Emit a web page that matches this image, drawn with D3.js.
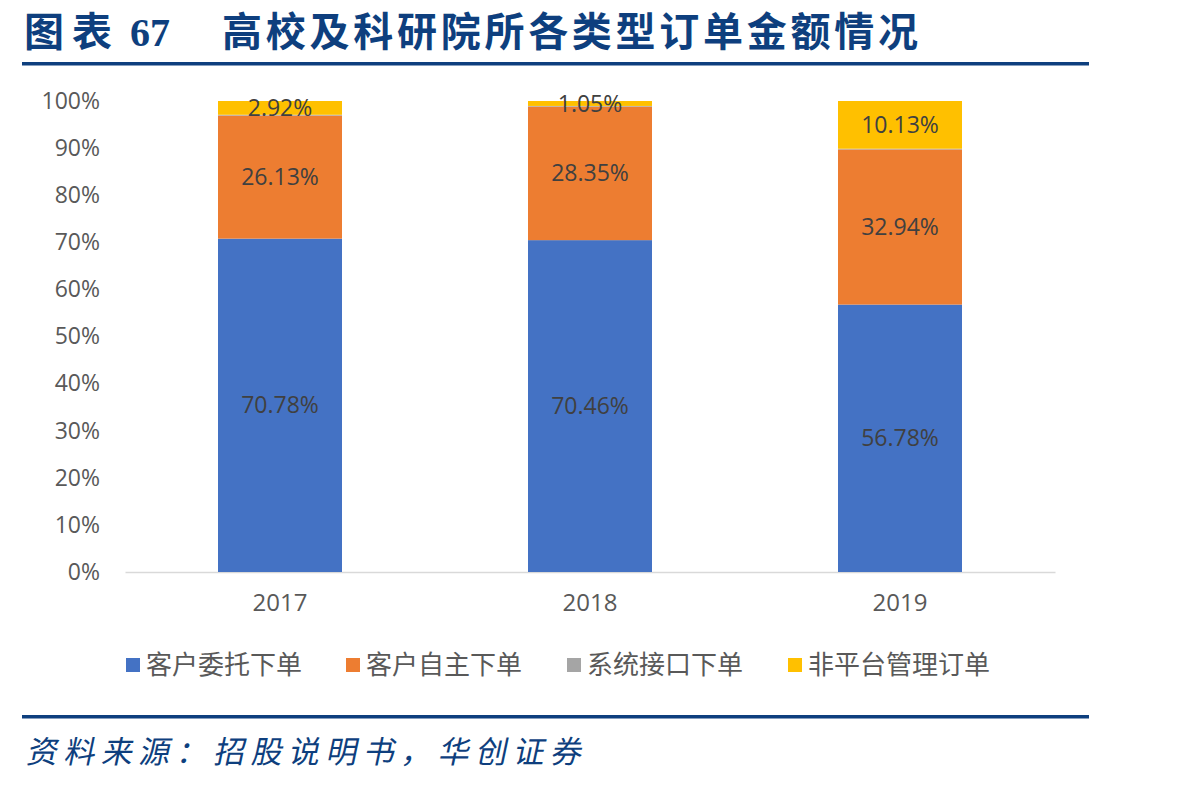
<!DOCTYPE html>
<html>
<head>
<meta charset="utf-8">
<script src="https://cdn.jsdelivr.net/npm/d3@7"></script>
<style>
  body { margin: 0; background: #fff; }
  svg { display: block; }
</style>
</head>
<body>
<div id="chart"></div>
<script>
// Data
var years = ["2017", "2018", "2019"];
var seriesNames = ["客户委托下单", "客户自主下单", "系统接口下单", "非平台管理订单"];
var entrusted = [70.78, 70.46, 56.78];
var selfOrder = [26.13, 28.35, 32.94];
var apiOrder = [0.17, 0.14, 0.15];
var offPlatform = [2.92, 1.05, 10.13];
var yTicks = [0, 10, 20, 30, 40, 50, 60, 70, 80, 90, 100];
var colors = ["#4472c4", "#ed7d31", "#a5a5a5", "#ffc000"];

var W = 1198, H = 785;
var svg = d3.select("#chart").append("svg")
    .attr("width", W)
    .attr("height", H);

// Header
var navy = "#0e3f7e";
var title = svg.append("text")
    .attr("x", 24)
    .attr("y", 46)
    .attr("fill", navy)
    .style("font-weight", "bold")
    .style("font-size", "40px");
title.append("tspan")
    .style("font-family", "'Noto Sans CJK SC'")
    .attr("textLength", 88)
    .text("图表");
title.append("tspan")
    .attr("x", 130)
    .style("font-family", "'Liberation Serif'")
    .text("67");
title.append("tspan")
    .attr("x", 222)
    .style("font-family", "'Noto Sans CJK SC'")
    .attr("textLength", 696)
    .text("高校及科研院所各类型订单金额情况");

svg.append("rect").attr("x", 22).attr("y", 62).attr("width", 1067).attr("height", 3.5).attr("fill", navy);
svg.append("rect").attr("x", 22).attr("y", 715).attr("width", 1067).attr("height", 3.5).attr("fill", navy);

svg.append("text")
    .attr("x", 28)
    .attr("y", 763)
    .attr("fill", navy)
    .attr("transform", "translate(160,0) skewX(-12)")
    .style("font-family", "'Noto Sans CJK SC'")
    .style("font-size", "31px")
    .attr("textLength", 555)
    .text("资料来源：招股说明书，华创证券");

// Plot
var x = d3.scaleBand()
    .domain(years)
    .range([125, 1055])
    .paddingInner(0.6)
    .paddingOuter(0.3);

var y = d3.scaleLinear()
    .domain([0, 100])
    .range([572, 101]);

var gy = svg.append("g")
    .attr("transform", "translate(125,0)")
    .call(d3.axisLeft(y).tickValues(yTicks).tickSize(0).tickPadding(25).tickFormat(function(d) { return d + "%"; }));
gy.select(".domain").remove();
gy.selectAll("text")
    .attr("fill", "#595959")
    .style("font-family", "'Open Sans', 'Noto Sans'")
    .style("font-size", "23px");

var gx = svg.append("g")
    .attr("transform", "translate(0,572)")
    .call(d3.axisBottom(x).tickSize(0).tickPadding(22));
gx.select(".domain").attr("stroke", "#d9d9d9").attr("stroke-width", 1.5);
gx.selectAll("text")
    .attr("fill", "#595959")
    .style("font-family", "'Open Sans', 'Noto Sans'")
    .style("font-size", "24px");

var table = years.map(function(yr, i) {
    return { year: yr, v0: entrusted[i], v1: selfOrder[i], v2: apiOrder[i], v3: offPlatform[i] };
});
var stack = d3.stack().keys(["v0", "v1", "v2", "v3"]);
var layers = stack(table);

var groups = svg.selectAll("g.layer")
    .data(layers)
    .enter().append("g")
    .attr("class", "layer")
    .attr("fill", function(d, i) { return colors[i]; });

groups.selectAll("rect")
    .data(function(d) { return d; })
    .enter().append("rect")
    .attr("x", function(d) { return x(d.data.year); })
    .attr("width", x.bandwidth())
    .attr("y", function(d) { return y(d[1]); })
    .attr("height", function(d) { return y(d[0]) - y(d[1]); });

// Data labels (gray series unlabeled)
layers.forEach(function(layer, i) {
    if (i === 2) return;
    svg.append("g").selectAll("text")
        .data(layer)
        .enter().append("text")
        .attr("x", function(d) { return x(d.data.year) + x.bandwidth() / 2; })
        .attr("y", function(d) { return (y(d[0]) + y(d[1])) / 2; })
        .attr("dy", "0.35em")
        .attr("text-anchor", "middle")
        .attr("fill", "#404040")
        .style("font-family", "'Open Sans', 'Noto Sans'")
        .style("font-size", "23px")
        .text(function(d) { return (d[1] - d[0]).toFixed(2) + "%"; });
});

// Legend
var legendX = [126, 346, 567, 788];
var legend = svg.selectAll("g.legend")
    .data(seriesNames)
    .enter().append("g")
    .attr("class", "legend")
    .attr("transform", function(d, i) { return "translate(" + legendX[i] + ",665)"; });
legend.append("rect")
    .attr("x", 0).attr("y", -7)
    .attr("width", 14).attr("height", 14)
    .attr("fill", function(d, i) { return colors[i]; });
legend.append("text")
    .attr("x", 20)
    .attr("dy", "0.36em")
    .attr("fill", "#595959")
    .style("font-family", "'Noto Sans CJK SC'")
    .style("font-size", "26px")
    .text(function(d) { return d; });
</script>
</body>
</html>
